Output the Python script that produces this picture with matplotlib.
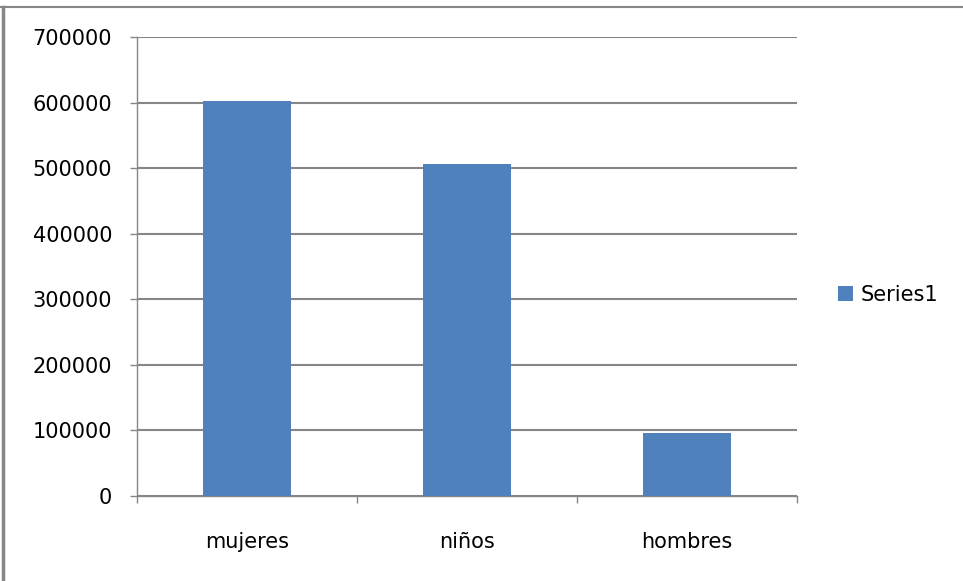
import numpy as np
import matplotlib.pyplot as plt
import matplotlib.lines as mlines

categorias = ['mujeres', 'niños', 'hombres']
valores = [603000, 507000, 96000]
serie = 'Series1'
yticks = [0, 100000, 200000, 300000, 400000, 500000, 600000, 700000]

W, H = 963, 581
gris = '#868686'
azul = '#4F81BD'

plt.rcParams['font.family'] = ['DejaVu Sans']

fig = plt.figure(figsize=(W / 100, H / 100), dpi=100)
ax = fig.add_axes([137 / W, (H - 496) / H, (797 - 137) / W, (496 - 37) / H])

x = np.arange(len(categorias))
ax.bar(x, valores, width=0.4, color=azul, label=serie, zorder=3)

ax.set_xlim(-0.5, len(categorias) - 0.5)
ax.set_ylim(0, 700000)
ax.set_yticks(yticks)
ax.set_yticklabels([str(v) for v in yticks])
ax.yaxis.grid(True, color=gris, linewidth=1.5, zorder=0)

ax.set_xticks(x)
ax.set_xticklabels(categorias)
ax.set_xticks(np.arange(len(categorias) + 1) - 0.5, minor=True)
ax.tick_params(axis='x', which='major', length=0, pad=26, labelsize=15, colors='black')
ax.tick_params(axis='x', which='minor', length=5, width=1, color=gris, direction='out')
ax.tick_params(axis='y', length=5, width=1, color=gris, pad=13, labelsize=15)

for s in ['top', 'right']:
    ax.spines[s].set_visible(False)
for s in ['left', 'bottom']:
    ax.spines[s].set_color(gris)
    ax.spines[s].set_linewidth(1)

leg = ax.legend(loc='center left', bbox_to_anchor=(828 / W, (H - 295) / H),
                bbox_transform=fig.transFigure, frameon=False, fontsize=15,
                handlelength=0.72, handleheight=0.72, handletextpad=0.35, borderpad=0)

# marco exterior
fig.add_artist(mlines.Line2D([0, 1], [(H - 7) / H] * 2, color=gris, linewidth=1.5, transform=fig.transFigure))
fig.add_artist(mlines.Line2D([3 / W] * 2, [0, (H - 7) / H], color=gris, linewidth=2.5, transform=fig.transFigure))

fig.savefig('out.png', dpi=100)
